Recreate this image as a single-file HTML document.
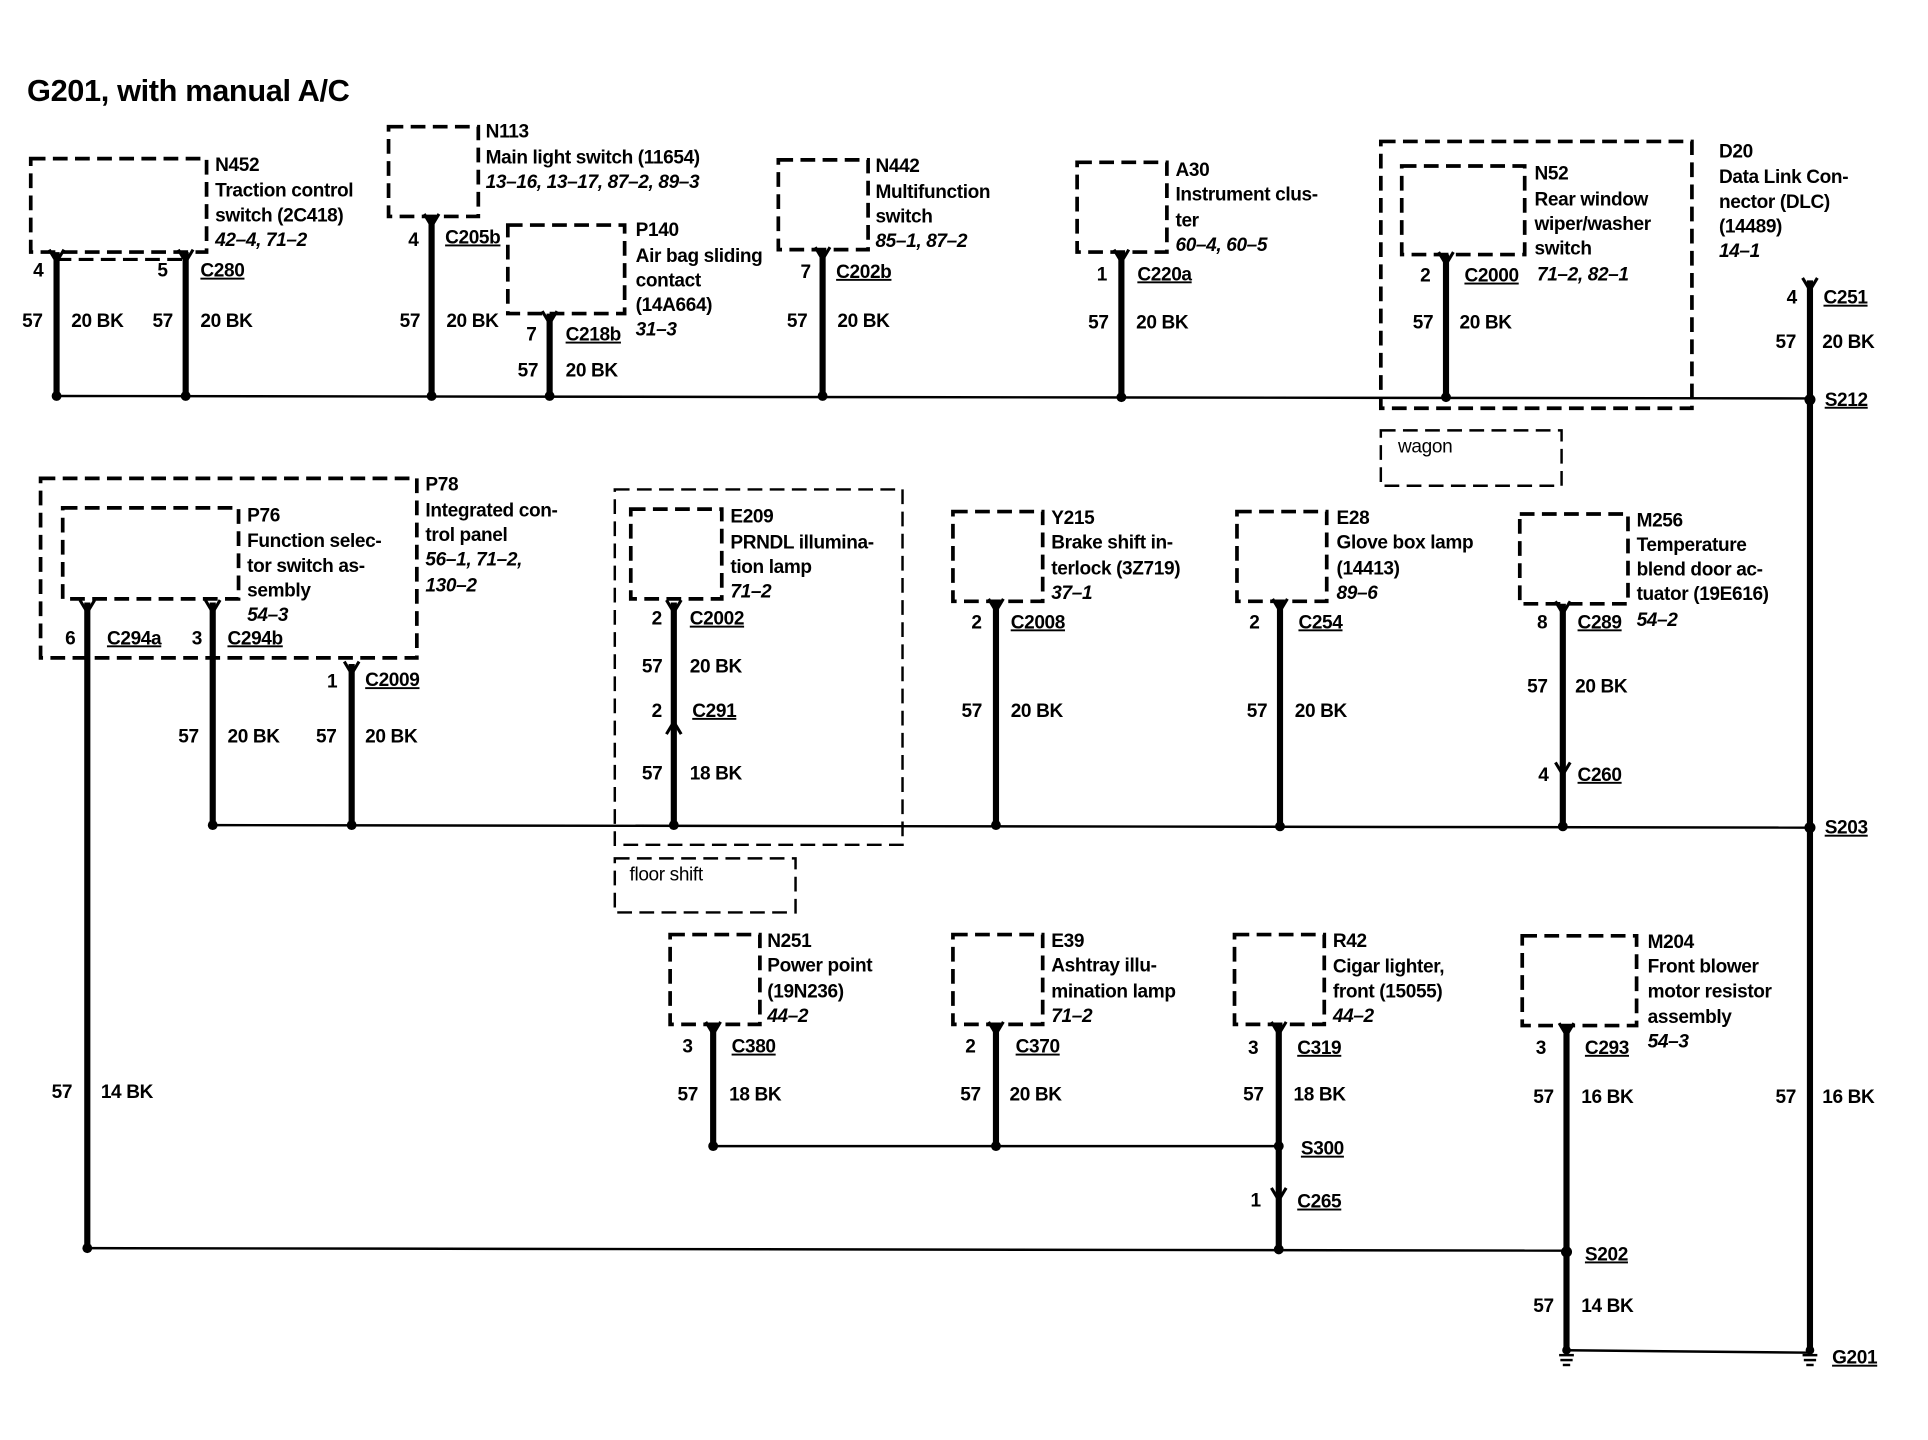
<!DOCTYPE html>
<html><head><meta charset="utf-8"><style>
html,body{margin:0;padding:0;background:#fff;}
svg{display:block}
text{font-family:"Liberation Sans",Arial,sans-serif;font-weight:bold;font-size:15.5px;fill:#000;letter-spacing:-0.3px}
.i{font-style:italic}
.u{text-decoration:underline}
.n{font-weight:normal}
.t{font-size:25px}
.box{fill:none;stroke:#000;stroke-width:3;stroke-dasharray:12 6}
.w{stroke:#000;stroke-width:5;fill:none}
.b{stroke:#000;stroke-width:2;fill:none}
.f{stroke:#000;stroke-width:2.5;fill:none}
</style></head><body>
<svg width="1928" height="1440" viewBox="0 0 1568 1171" preserveAspectRatio="none" xmlns="http://www.w3.org/2000/svg">
<rect width="1568" height="1171" fill="#fff"/>
<text x="22" y="82" class="t">G201, with manual A/C</text>

<!-- buses -->
<line class="b" x1="46" y1="322" x2="1472" y2="324"/>
<line class="b" x1="173" y1="671" x2="1472" y2="673"/>
<line class="b" x1="580" y1="932" x2="1040" y2="932"/>
<line class="b" x1="71" y1="1015" x2="1274" y2="1017"/>
<line class="b" x1="1274" y1="1098" x2="1472" y2="1100"/>

<!-- N452 -->
<rect class="box" x="25" y="129" width="143" height="76"/>
<line class="box" x1="46" y1="211" x2="151" y2="211" style="stroke-width:2.5"/>
<line class="w" x1="46" y1="205" x2="46" y2="322"/><line class="w" x1="151" y1="205" x2="151" y2="322"/>
<path class="f" d="M40 203 L46 213 L52 203 M145 203 L151 213 L157 203"/>
<circle cx="46" cy="322" r="4"/><circle cx="151" cy="322" r="4"/>
<text x="175" y="139">N452</text><text x="175" y="160">Traction control</text><text x="175" y="180">switch (2C418)</text><text x="175" y="200" class="i">42–4, 71–2</text>
<text x="27" y="225">4</text><text x="128" y="225">5</text><text x="163" y="225" class="u">C280</text>
<text x="18" y="266">57</text><text x="58" y="266">20 BK</text><text x="124" y="266">57</text><text x="163" y="266">20 BK</text>

<!-- N113 -->
<rect class="box" x="316" y="103" width="73" height="73"/>
<line class="w" x1="351" y1="176" x2="351" y2="322"/><path class="f" d="M345 174 L351 184 L357 174"/><circle cx="351" cy="322" r="4"/>
<text x="395" y="112">N113</text><text x="395" y="133">Main light switch (11654)</text><text x="395" y="153" class="i">13–16, 13–17, 87–2, 89–3</text>
<text x="332" y="200">4</text><text x="362" y="198" class="u">C205b</text>
<text x="325" y="266">57</text><text x="363" y="266">20 BK</text>

<!-- P140 -->
<rect class="box" x="413" y="183" width="95" height="72"/>
<line class="w" x1="447" y1="255" x2="447" y2="322"/><path class="f" d="M441 253 L447 263 L453 253"/><circle cx="447" cy="322" r="4"/>
<text x="517" y="192">P140</text><text x="517" y="213">Air bag sliding</text><text x="517" y="233">contact</text><text x="517" y="253">(14A664)</text><text x="517" y="273" class="i">31–3</text>
<text x="428" y="277">7</text><text x="460" y="277" class="u">C218b</text>
<text x="421" y="306">57</text><text x="460" y="306">20 BK</text>

<!-- N442 -->
<rect class="box" x="633" y="130" width="73" height="73"/>
<line class="w" x1="669" y1="203" x2="669" y2="322"/><path class="f" d="M663 201 L669 211 L675 201"/><circle cx="669" cy="322" r="4"/>
<text x="712" y="140">N442</text><text x="712" y="161">Multifunction</text><text x="712" y="181">switch</text><text x="712" y="201" class="i">85–1, 87–2</text>
<text x="651" y="226">7</text><text x="680" y="226" class="u">C202b</text>
<text x="640" y="266">57</text><text x="681" y="266">20 BK</text>

<!-- A30 -->
<rect class="box" x="876" y="132" width="73" height="73"/>
<line class="w" x1="912" y1="205" x2="912" y2="322"/><path class="f" d="M906 203 L912 213 L918 203"/><circle cx="912" cy="323" r="4"/>
<text x="956" y="143">A30</text><text x="956" y="163">Instrument clus-</text><text x="956" y="184">ter</text><text x="956" y="204" class="i">60–4, 60–5</text>
<text x="892" y="228">1</text><text x="925" y="228" class="u">C220a</text>
<text x="885" y="267">57</text><text x="924" y="267">20 BK</text>

<!-- N52 -->
<rect class="box" x="1123" y="115" width="253" height="217"/>
<rect class="box" x="1140" y="135" width="100" height="72"/>
<line class="w" x1="1176" y1="207" x2="1176" y2="322"/><path class="f" d="M1170 205 L1176 215 L1182 205"/><circle cx="1176" cy="323" r="4"/>
<text x="1248" y="146">N52</text><text x="1248" y="167">Rear window</text><text x="1248" y="187">wiper/washer</text><text x="1248" y="207">switch</text>
<text x="1155" y="229">2</text><text x="1191" y="229" class="u">C2000</text><text x="1250" y="228" class="i">71–2, 82–1</text>
<text x="1149" y="267">57</text><text x="1187" y="267">20 BK</text>
<rect class="box" x="1123" y="350" width="147" height="45" style="stroke-width:2"/>
<text x="1137" y="368" class="n">wagon</text>

<!-- D20 -->
<line class="w" x1="1472" y1="228" x2="1472" y2="1098"/><path class="f" d="M1466 226 L1472 236 L1478 226"/>
<circle cx="1472" cy="325" r="4.5"/><circle cx="1472" cy="673" r="4.5"/>
<text x="1398" y="128">D20</text><text x="1398" y="149">Data Link Con-</text><text x="1398" y="169">nector (DLC)</text><text x="1398" y="189">(14489)</text><text x="1398" y="209" class="i">14–1</text>
<text x="1453" y="247">4</text><text x="1483" y="247" class="u">C251</text>
<text x="1444" y="283">57</text><text x="1482" y="283">20 BK</text>
<text x="1484" y="330" class="u">S212</text><text x="1484" y="678" class="u">S203</text>
<text x="1444" y="897">57</text><text x="1482" y="897">16 BK</text>
<text x="1490" y="1109" class="u">G201</text>

<!-- P78 / P76 -->
<rect class="box" x="33" y="389" width="306" height="146"/>
<rect class="box" x="51" y="413" width="143" height="74"/>
<line class="w" x1="71" y1="490" x2="71" y2="1015"/><line class="w" x1="173" y1="490" x2="173" y2="671"/><line class="w" x1="286" y1="540" x2="286" y2="671"/>
<path class="f" d="M65 488 L71 498 L77 488 M167 488 L173 498 L179 488 M280 538 L286 548 L292 538"/>
<circle cx="173" cy="671" r="4"/><circle cx="286" cy="671" r="4"/><circle cx="71" cy="1015" r="4"/>
<text x="346" y="399">P78</text><text x="346" y="420">Integrated con-</text><text x="346" y="440">trol panel</text><text x="346" y="460" class="i">56–1, 71–2,</text><text x="346" y="481" class="i">130–2</text>
<text x="201" y="424">P76</text><text x="201" y="445">Function selec-</text><text x="201" y="465">tor switch as-</text><text x="201" y="485">sembly</text><text x="201" y="505" class="i">54–3</text>
<text x="53" y="524">6</text><text x="87" y="524" class="u">C294a</text><text x="156" y="524">3</text><text x="185" y="524" class="u">C294b</text>
<text x="266" y="559">1</text><text x="297" y="558" class="u">C2009</text>
<text x="145" y="604">57</text><text x="185" y="604">20 BK</text><text x="257" y="604">57</text><text x="297" y="604">20 BK</text>
<text x="42" y="893">57</text><text x="82" y="893">14 BK</text>

<!-- E209 -->
<rect class="box" x="500" y="398" width="234" height="289" style="stroke-width:2"/>
<rect class="box" x="513" y="414" width="74" height="73"/>
<line class="w" x1="548" y1="490" x2="548" y2="671"/><path class="f" d="M542 488 L548 498 L554 488 M542 597 L548 587 L554 597"/><circle cx="548" cy="671" r="4"/>
<text x="594" y="425">E209</text><text x="594" y="446">PRNDL illumina-</text><text x="594" y="466">tion lamp</text><text x="594" y="486" class="i">71–2</text>
<text x="530" y="508">2</text><text x="561" y="508" class="u">C2002</text>
<text x="522" y="547">57</text><text x="561" y="547">20 BK</text>
<text x="530" y="583">2</text><text x="563" y="583" class="u">C291</text>
<text x="522" y="634">57</text><text x="561" y="634">18 BK</text>
<rect class="box" x="500" y="698" width="147" height="44" style="stroke-width:2"/>
<text x="512" y="716" class="n">floor shift</text>

<!-- Y215 -->
<rect class="box" x="775" y="416" width="73" height="73"/>
<line class="w" x1="810" y1="489" x2="810" y2="671"/><path class="f" d="M804 487 L810 497 L816 487"/><circle cx="810" cy="671" r="4"/>
<text x="855" y="426">Y215</text><text x="855" y="446">Brake shift in-</text><text x="855" y="467">terlock (3Z719)</text><text x="855" y="487" class="i">37–1</text>
<text x="790" y="511">2</text><text x="822" y="511" class="u">C2008</text>
<text x="782" y="583">57</text><text x="822" y="583">20 BK</text>

<!-- E28 -->
<rect class="box" x="1006" y="416" width="73" height="73"/>
<line class="w" x1="1041" y1="489" x2="1041" y2="671"/><path class="f" d="M1035 487 L1041 497 L1047 487"/><circle cx="1041" cy="672" r="4"/>
<text x="1087" y="426">E28</text><text x="1087" y="446">Glove box lamp</text><text x="1087" y="467">(14413)</text><text x="1087" y="487" class="i">89–6</text>
<text x="1016" y="511">2</text><text x="1056" y="511" class="u">C254</text>
<text x="1014" y="583">57</text><text x="1053" y="583">20 BK</text>

<!-- M256 -->
<rect class="box" x="1236" y="418" width="88" height="73"/>
<line class="w" x1="1271" y1="491" x2="1271" y2="672"/><path class="f" d="M1265 489 L1271 499 L1277 489 M1265 620 L1271 630 L1277 620"/><circle cx="1271" cy="672" r="4"/>
<text x="1331" y="428">M256</text><text x="1331" y="448">Temperature</text><text x="1331" y="468">blend door ac-</text><text x="1331" y="488">tuator (19E616)</text><text x="1331" y="509" class="i">54–2</text>
<text x="1250" y="511">8</text><text x="1283" y="511" class="u">C289</text>
<text x="1242" y="563">57</text><text x="1281" y="563">20 BK</text>
<text x="1251" y="635">4</text><text x="1283" y="635" class="u">C260</text>

<!-- N251 -->
<rect class="box" x="545" y="760" width="73" height="73"/>
<line class="w" x1="580" y1="833" x2="580" y2="932"/><path class="f" d="M574 831 L580 841 L586 831"/><circle cx="580" cy="932" r="4"/>
<text x="624" y="770">N251</text><text x="624" y="790">Power point</text><text x="624" y="811">(19N236)</text><text x="624" y="831" class="i">44–2</text>
<text x="555" y="856">3</text><text x="595" y="856" class="u">C380</text>
<text x="551" y="895">57</text><text x="593" y="895">18 BK</text>

<!-- E39 -->
<rect class="box" x="775" y="760" width="73" height="73"/>
<line class="w" x1="810" y1="833" x2="810" y2="932"/><path class="f" d="M804 831 L810 841 L816 831"/><circle cx="810" cy="932" r="4"/>
<text x="855" y="770">E39</text><text x="855" y="790">Ashtray illu-</text><text x="855" y="811">mination lamp</text><text x="855" y="831" class="i">71–2</text>
<text x="785" y="856">2</text><text x="826" y="856" class="u">C370</text>
<text x="781" y="895">57</text><text x="821" y="895">20 BK</text>

<!-- R42 -->
<rect class="box" x="1004" y="760" width="73" height="73"/>
<line class="w" x1="1040" y1="833" x2="1040" y2="1015"/><path class="f" d="M1034 831 L1040 841 L1046 831 M1034 966 L1040 976 L1046 966"/>
<circle cx="1040" cy="932" r="4"/><circle cx="1040" cy="1016" r="4"/>
<text x="1084" y="770">R42</text><text x="1084" y="791">Cigar lighter,</text><text x="1084" y="811">front (15055)</text><text x="1084" y="831" class="i">44–2</text>
<text x="1015" y="857">3</text><text x="1055" y="857" class="u">C319</text>
<text x="1011" y="895">57</text><text x="1052" y="895">18 BK</text>
<text x="1058" y="939" class="u">S300</text>
<text x="1017" y="981">1</text><text x="1055" y="982" class="u">C265</text>

<!-- M204 -->
<rect class="box" x="1238" y="761" width="93" height="73"/>
<line class="w" x1="1274" y1="834" x2="1274" y2="1098"/><path class="f" d="M1268 832 L1274 842 L1280 832"/><circle cx="1274" cy="1018" r="4.5"/>
<text x="1340" y="771">M204</text><text x="1340" y="791">Front blower</text><text x="1340" y="811">motor resistor</text><text x="1340" y="832">assembly</text><text x="1340" y="852" class="i">54–3</text>
<text x="1249" y="857">3</text><text x="1289" y="857" class="u">C293</text>
<text x="1247" y="897">57</text><text x="1286" y="897">16 BK</text>
<text x="1289" y="1025" class="u">S202</text>
<text x="1247" y="1067">57</text><text x="1286" y="1067">14 BK</text>

<!-- grounds -->
<g stroke="#000" stroke-width="2">
<line x1="1268" y1="1102" x2="1280" y2="1102"/><line x1="1269" y1="1106" x2="1279" y2="1106"/><line x1="1271" y1="1110" x2="1277" y2="1110"/>
<line x1="1466" y1="1102" x2="1478" y2="1102"/><line x1="1467" y1="1106" x2="1477" y2="1106"/><line x1="1469" y1="1110" x2="1475" y2="1110"/>
</g>
<circle cx="1274" cy="1098" r="3.5"/><circle cx="1472" cy="1098" r="3.5"/>
</svg>
</body></html>
